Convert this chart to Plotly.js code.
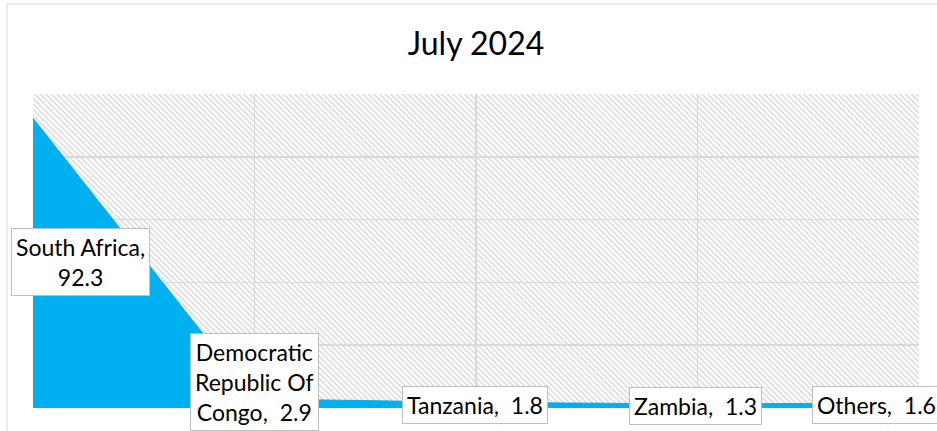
<!DOCTYPE html>
<html>
<head>
<meta charset="utf-8">
<script src="https://cdn.plot.ly/plotly-3.0.1.min.js"></script>
<style>html,body{margin:0;padding:0;background:#fff;}#chart{width:937px;height:431px;}</style>
</head>
<body>
<div id="chart"></div>
<script>
// Data
const categories = ["South Africa", "Democratic Republic Of Congo", "Tanzania", "Zambia", "Others"];
const values = [92.3, 2.9, 1.8, 1.3, 1.6];
const labelTexts = [
  "South Africa,<br>92.3",
  "Democratic<br>Republic Of<br>Congo,\u00a0 2.9",
  "Tanzania,\u00a0 1.8",
  "Zambia,\u00a0 1.3",
  "Others,\u00a0 1.6"
];
const chartTitle = "July 2024";

// Label offsets (pixels) relative to each point
const labelShifts = [[47, -144], [0, 17], [-1, -3], [-2, -2], [-43, -2]];

const W = 937, H = 431;
const margin = {l: 33, r: 18, t: 94, b: 23};
const pw = W - margin.l - margin.r, ph = H - margin.t - margin.b;

const P = 4;
const svg = `<svg xmlns="http://www.w3.org/2000/svg" width="${pw}" height="${ph}"><defs><pattern id="p" width="${P}" height="${P}" patternUnits="userSpaceOnUse" patternTransform="rotate(-45)"><rect width="${P}" height="${P}" fill="#ffffff"/><line x1="1" y1="-1" x2="1" y2="${P + 1}" stroke="#dadada" stroke-width="1.6"/></pattern></defs><rect width="100%" height="100%" fill="url(#p)"/></svg>`;
const hatch = "data:image/svg+xml;charset=utf-8," + encodeURIComponent(svg);

const trace = {
  type: "scatter",
  mode: "lines",
  x: categories,
  y: values,
  fill: "tozeroy",
  fillcolor: "#00B0F0",
  line: {color: "#00B0F0", width: 1},
  hoverinfo: "skip"
};

const font = "Lato, Carlito, 'Open Sans', sans-serif";

const annotations = categories.map((c, i) => ({
  x: c, y: values[i], xref: "x", yref: "y",
  text: labelTexts[i], showarrow: false,
  xshift: labelShifts[i][0], yshift: labelShifts[i][1],
  font: {family: font, size: 23, color: "#000"},
  bgcolor: "#ffffff", bordercolor: "#bfbfbf", borderwidth: 1, borderpad: 4,
  align: "center"
}));

const layout = {
  width: W, height: H,
  margin: margin,
  paper_bgcolor: "#ffffff",
  plot_bgcolor: "#ffffff",
  showlegend: false,
  title: {
    text: chartTitle,
    font: {family: font, size: 32, color: "#000"},
    xref: "paper", x: 0.5, xanchor: "center",
    yref: "container", y: 1 - 44 / H, yanchor: "middle"
  },
  xaxis: {
    type: "category", range: [0, categories.length - 1],
    showticklabels: false, ticks: "",
    showgrid: true, gridcolor: "#d9d9d9", gridwidth: 1.5,
    zeroline: false, showline: false, fixedrange: true
  },
  yaxis: {
    range: [0, 100], dtick: 20,
    showticklabels: false, ticks: "",
    showgrid: true, gridcolor: "#d9d9d9", gridwidth: 1.5,
    zeroline: false, showline: false, fixedrange: true
  },
  images: [{
    source: hatch, xref: "paper", yref: "paper",
    x: 0, y: 1, sizex: 1, sizey: 1, xanchor: "left", yanchor: "top",
    sizing: "stretch", layer: "below"
  }],
  shapes: [{
    type: "rect", xref: "paper", yref: "paper",
    x0: (7 - margin.l) / pw, x1: (W + 20 - margin.l) / pw,
    y0: -0.5, y1: (ph + margin.t - 4) / ph,
    line: {color: "#d9d9d9", width: 1}, fillcolor: "rgba(0,0,0,0)", layer: "below"
  }],
  annotations: annotations
};

Plotly.newPlot("chart", [trace], layout, {displayModeBar: false, staticPlot: true});
</script>
</body>
</html>
